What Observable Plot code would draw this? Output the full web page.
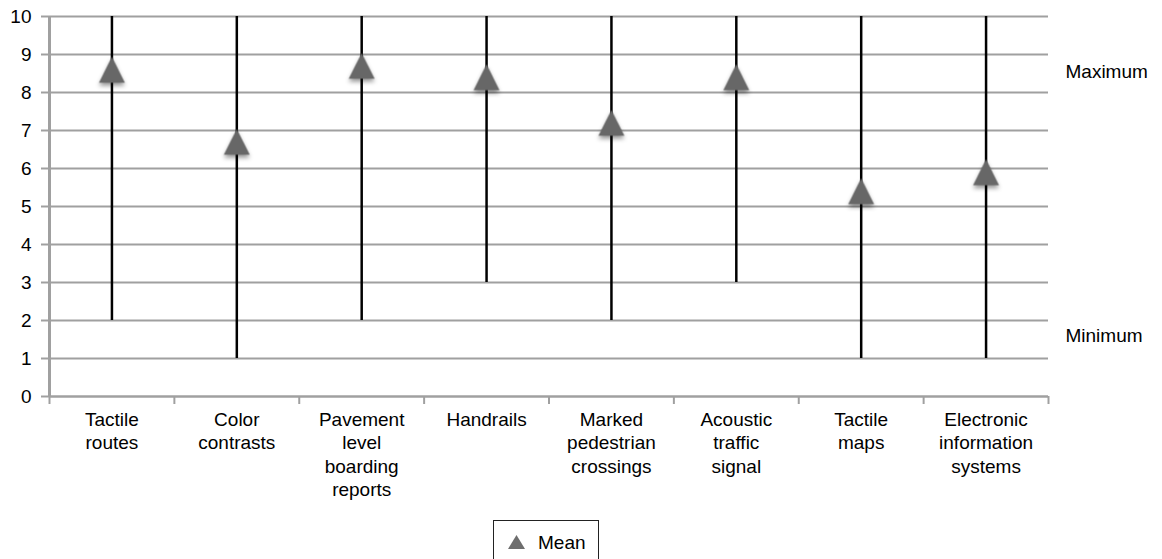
<!DOCTYPE html>
<html><head><meta charset="utf-8">
<script src="https://cdn.jsdelivr.net/npm/d3@7"></script>
<script src="https://cdn.jsdelivr.net/npm/@observablehq/plot@0.6"></script>
<style>
body{margin:0;background:#fff;font-family:"Liberation Sans",Arial,sans-serif;overflow:hidden;}
#legend{position:relative;width:1162px;height:45px;}
.lg{position:absolute;left:493px;top:6px;width:106px;height:50px;border:1px solid #222;box-sizing:border-box;display:flex;align-items:flex-start;padding-top:12px;font-size:19px;color:#000;line-height:19px;}
.lg svg{margin:2px 13px 0 14px;}
</style></head><body><div id="chart"></div><div id="legend"></div>
<script>
const categories = ["Tactile\nroutes","Color\ncontrasts","Pavement\nlevel\nboarding\nreports","Handrails","Marked\npedestrian\ncrossings","Acoustic\ntraffic\nsignal","Tactile\nmaps","Electronic\ninformation\nsystems"];
const minimum = [2,1,2,3,2,3,1,1];
const maximum = [10,10,10,10,10,10,10,10];
const mean = [8.6,6.7,8.7,8.4,7.2,8.4,5.4,5.9];
const yTicks = [0,1,2,3,4,5,6,7,8,9,10];
const sideLabels = ["Maximum","Minimum"];
const sideLabelValues = [8.55,1.6];
const legendLabel = "Mean";

const data = categories.map((c,i)=>({cat:c,pos:i+0.5,lo:minimum[i],hi:maximum[i],mean:mean[i]}));
const bounds = d3.range(categories.length+1);

// isosceles triangle centred on its bounding box (width = height)
const tri = {draw(ctx, size){ const h = Math.sqrt(size); ctx.moveTo(0,-h/2); ctx.lineTo(h/2,h/2); ctx.lineTo(-h/2,h/2); ctx.closePath(); }};

const chart = Plot.plot({
  width:1162, height:514,
  marginLeft:49, marginRight:114, marginTop:16, marginBottom:118,
  style:{fontFamily:"'Liberation Sans', Arial, sans-serif", fontSize:"19px", color:"#000", background:"#fff", overflow:"visible"},
  x:{domain:[0,categories.length], axis:null},
  y:{domain:[0,10], axis:null},
  marks:[
    Plot.ruleY(yTicks.filter(d=>d>0), {stroke:"#a0a0a0", strokeWidth:2}),
    Plot.axisY({ticks:yTicks, tickSize:8, tickPadding:10, stroke:"#a0a0a0", strokeWidth:2, fontSize:19, label:null}),
    Plot.axisX({ticks:bounds, tickSize:8, tickFormat:()=> "", stroke:"#a0a0a0", strokeWidth:2, label:null}),
    Plot.ruleY([0], {stroke:"#a0a0a0", strokeWidth:2.5}),
    Plot.ruleX([0], {stroke:"#a0a0a0", strokeWidth:3}),
    Plot.text(data, {x:"pos", y:0, text:"cat", lineAnchor:"top", dy:13, fontSize:19, lineHeight:1.23}),
    Plot.ruleX(data, {x:"pos", y1:"lo", y2:"hi", stroke:"#000", strokeWidth:2.5}),
    Plot.dot(data, {x:"pos", y:"mean", symbol:tri, r:14.6, fill:"#676767", stroke:null}),
    Plot.text(sideLabels, {x:categories.length, y:(d,i)=>sideLabelValues[i], text:d=>d, textAnchor:"start", dx:17, fontSize:19})
  ]
});
d3.select(chart).selectAll('g[aria-label="dot"]').style("filter","drop-shadow(0px 3px 2px rgba(0,0,0,0.4))");
document.getElementById("chart").appendChild(chart);

const lg = d3.select("#legend").append("div").attr("class","lg");
const s = lg.append("svg").attr("width",17).attr("height",14);
s.append("path").attr("d","M8.5,0L17,14H0Z").attr("fill","#6e6e6e");
lg.append("span").text(legendLabel);
</script></body></html>
